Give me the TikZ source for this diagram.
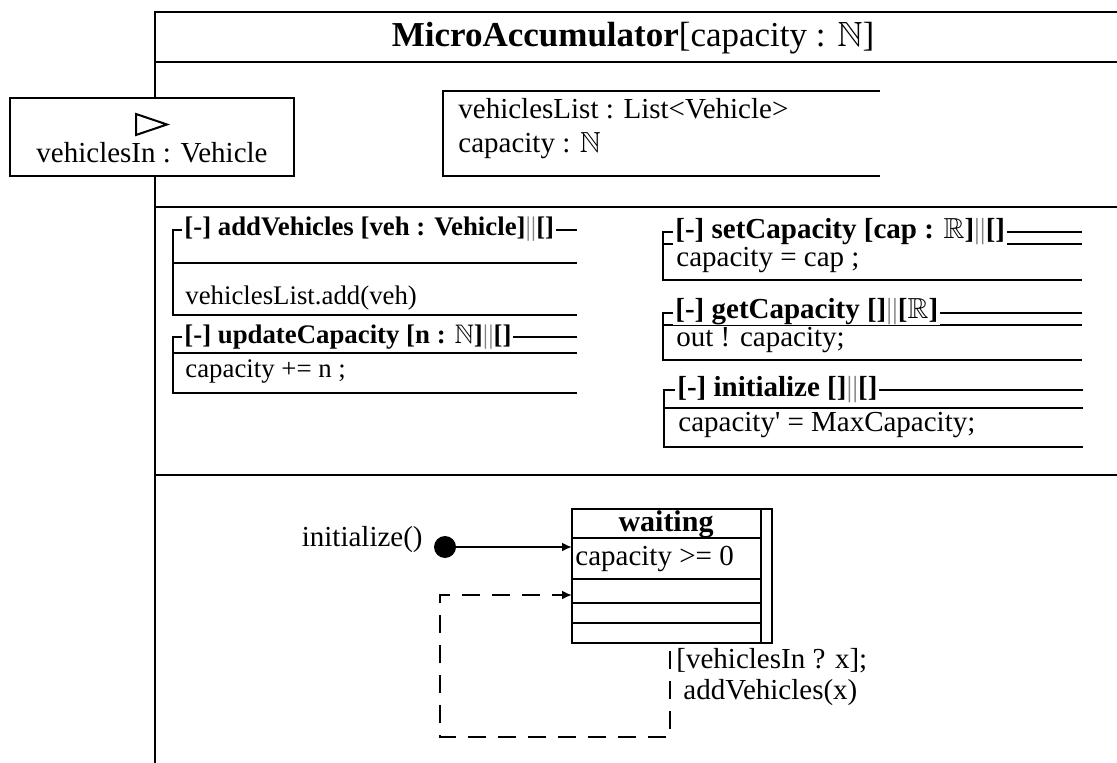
\documentclass[tikz,border=0pt]{standalone}
\usepackage{amssymb}
\usepackage{fontspec}
\setmainfont{Liberation Serif}
\usetikzlibrary{positioning,arrows.meta}
\tikzstyle{txt}=[inner sep=0pt, font=\fontsize{14.5}{17}\selectfont]
\tikzstyle{txtsmall}=[inner sep=0pt, font=\fontsize{13.4}{16}\selectfont]
\tikzstyle{optitle}=[inner sep=0pt, inner xsep=1pt, fill=white, anchor=base west,
        font=\fontsize{14.5}{17}\selectfont\bfseries]
\tikzstyle{optitlesmall}=[optitle, font=\fontsize{13.4}{16}\selectfont\bfseries]
\tikzstyle{frameline}=[line width=1.2pt]
\tikzstyle{opline}=[line width=1pt]
\tikzstyle{myarrow}=[-{Latex[length=5pt,width=4.5pt]}, line width=1pt]
\tikzstyle{looparrow}=[myarrow, dash pattern=on 9pt off 6pt]
\newcommand{\sep}{\textcolor{gray}{\mdseries||}}

\begin{document}
\begin{tikzpicture}[x=0.5pt, y=-0.5pt]
\useasboundingbox (0,0) rectangle (1117,763);

% outer frame
\draw[frameline] (1117,12) -- (155,12) -- (155,763);
\draw[frameline] (155,62) -- (1117,62);
\draw[frameline] (155,207) -- (1117,207);
\draw[frameline] (155,475) -- (1117,475);

\node (MicroTitle) [inner sep=0pt, anchor=base, font=\fontsize{17.5}{20}\selectfont] at (633,47)
    {\textbf{MicroAccumulator}[capacity : $\mathbb{N}$]};

% port
\node (PortIn) [draw, line width=1pt, fill=white, minimum width=142pt, minimum height=39pt] at (152,137) {};
\draw[line width=1pt] (136,114) -- (167,124.5) -- (136,135) -- cycle;
\node (PortName) [txt, anchor=base] at (152,163) {vehiclesIn : Vehicle};

% attributes
\draw[frameline] (880,91) -- (443,91) -- (443,176) -- (880,176);
\node (AttrList) [txt, anchor=base west] at (458,119) {vehiclesList : List<Vehicle>};
\node (AttrCap) [txt, anchor=base west] at (458,153) {capacity : $\mathbb{N}$};

% operations
\draw[opline] (577,230) -- (173,230) -- (173,315) -- (577,315);
\draw[opline] (173,263) -- (577,263);
\node (OpAdd) [optitlesmall] at (182,236) {[-] addVehicles [veh : Vehicle]\sep[]};
\node (OpAddBody) [txtsmall, anchor=base west] at (185,305) {vehiclesList.add(veh)};

\draw[opline] (577,337) -- (173,337) -- (173,393) -- (577,393);
\draw[opline] (173,353) -- (577,353);
\node (OpUpdate) [optitlesmall] at (182,344) {[-] updateCapacity [n : $\mathbb{N}$]\sep[]};
\node (OpUpdateBody) [txtsmall, anchor=base west] at (185,378) {capacity += n ;};

\draw[opline] (1082,232) -- (663,232) -- (663,280) -- (1082,280);
\draw[opline] (663,244) -- (1082,244);
\node (OpSet) [optitle] at (673,239) {[-] setCapacity [cap : $\mathbb{R}$]\sep[]};
\node (OpSetBody) [txt, anchor=base west] at (676,267) {capacity = cap ;};

\draw[opline] (1082,313) -- (663,313) -- (663,360) -- (1082,360);
\draw[opline] (663,325) -- (1082,325);
\node (OpGet) [optitle] at (673,319) {[-] getCapacity []\sep[$\mathbb{R}$]};
\node (OpGetBody) [txt, anchor=base west] at (676,347) {out ! capacity;};

\draw[opline] (1083,390) -- (664,390) -- (664,447) -- (1083,447);
\draw[opline] (664,408) -- (1083,408);
\node (OpInit) [optitle] at (675,397) {[-] initialize []\sep[]};
\node (OpInitBody) [txt, anchor=base west] at (678,432) {capacity\textquotesingle{} = MaxCapacity;};

% state machine
\draw[opline] (572,509) rectangle (772,643);
\draw[opline] (761,509) -- (761,643);
\foreach \y in {538,579,603,623}
    \draw[opline] (572,\y) -- (761,\y);
\node (Waiting) [txt, anchor=base, font=\fontsize{15}{18}\selectfont\bfseries] at (666,531) {waiting};
\node (WaitInv) [txt, anchor=base west] at (575,565) {capacity >= 0};

\node (InitLabel) [txt, anchor=base east] at (423,546) {initialize()};
\node (InitDot) [circle, fill=black, inner sep=0pt, minimum size=11pt] at (445,547) {};
\coordinate (WaitIn) at (572,547);
\draw[myarrow] (InitDot) -- (WaitIn);

\coordinate (LoopFoot) at (670,651);
\coordinate (WaitLoop) at (572,595);
\draw[looparrow] (LoopFoot) |- (440,737) |- (WaitLoop);
\node (Guard) [txt, anchor=base west] at (676,668) {[vehiclesIn ? x];};
\node (GuardAct) [txt, anchor=base west] at (683,699) {addVehicles(x)};

\end{tikzpicture}
\end{document}
